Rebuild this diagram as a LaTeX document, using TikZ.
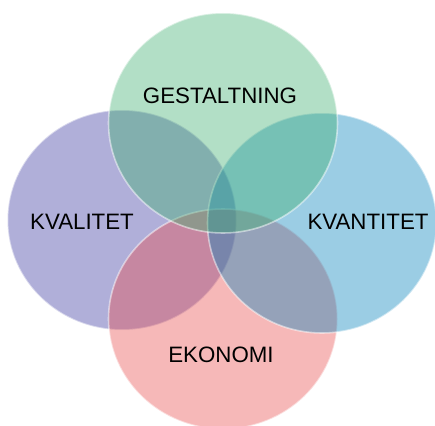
\documentclass[tikz,border=0pt]{standalone}
\usepackage{fontspec}
\setmainfont{Liberation Sans}
\usetikzlibrary{shapes.geometric}
\definecolor{kvalcol}{RGB}{57,55,160}
\definecolor{ekoncol}{RGB}{232,77,77}
\definecolor{kvancol}{RGB}{5,130,187}
\definecolor{gestcol}{RGB}{63,175,112}
\tikzset{
    ring/.style={ellipse, inner sep=0pt, minimum width=229pt, minimum height=220pt,
        fill opacity=0.4, draw=white, draw opacity=0.5, line width=1.6pt},
    word/.style={font=\fontsize{22.3}{27}\selectfont, text=black, inner sep=0pt}
}
\begin{document}
\begin{tikzpicture}[x=1pt, y=-1pt]
\useasboundingbox (0,0) rectangle (435,425);
% circles, back to front
\foreach\name/\x/\y/\col in{kval/122/220/kvalcol, ekon/223/319/ekoncol,
    kvan/322/223/kvancol, gest/223/123/gestcol}{
    \node[ring, fill=\col] (\name) at (\x, \y) {};
}
% labels
\node[word] (gestlabel) at (220, 96) {GESTALTNING};
\node[word] (kvallabel) at (82, 222) {KVALITET};
\node[word] (kvanlabel) at (368, 222) {KVANTITET};
\node[word] (ekonlabel) at (221, 355) {EKONOMI};
\end{tikzpicture}
\end{document}
